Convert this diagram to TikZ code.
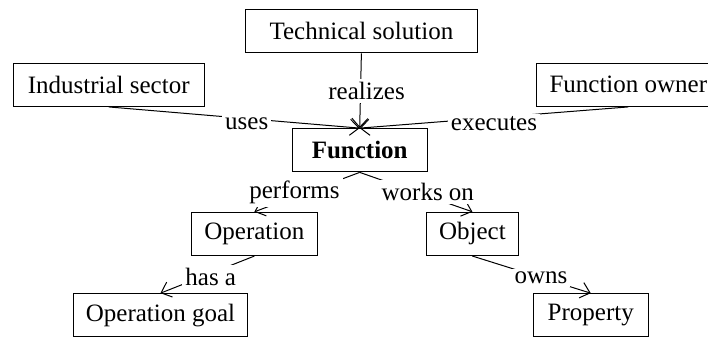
\documentclass[tikz,border=0pt]{standalone}
\usepackage{fontspec}
\setmainfont{Liberation Serif}
\usetikzlibrary{arrows.meta}

\begin{document}
\begin{tikzpicture}[box/.style = {draw, minimum height=0.76cm, inner sep=0pt},lbl/.style={fill=white, inner sep=1.5pt},
        every path/.style={line width=0.5pt}, >={Straight Barb[length=4.5pt,width=8pt]}, font=\fontsize{12.5}{15}\selectfont]
        \useasboundingbox (0,0) rectangle (12.44,5.94);
        \node[box, minimum width=4.08cm] (tech) at (6.35, 5.39) {Technical solution};
        \node[box, minimum width=3.36cm] (sector) at (1.91, 4.45) {Industrial sector};
        \node[box, minimum width=3.23cm] (owner) at (11.04, 4.45) {Function owner};
        \node[box, minimum width=2.37cm] (func) at (6.32, 3.30) {\textbf{Function}};
        \node[box, minimum width=2.20cm] (op) at (4.47, 1.83) {Operation};
        \node[box, minimum width=1.63cm] (obj) at (8.30, 1.83) {Object};
        \node[box, minimum width=3.04cm] (goal) at (2.82, 0.40) {Operation goal};
        \node[box, minimum width=2.02cm] (prop) at (10.38, 0.40) {Property};
        \draw[->] (tech.south) -- node[lbl, xshift=3pt] {realizes} (func.north);
        \draw[->] (sector.south) -- node[lbl, pos=0.55, yshift=-2.7pt] {uses} (func.north);
        \draw[->] (owner.south) -- node[lbl, pos=0.5, yshift=-3.2pt] {executes} (func.north);
        \draw[->] (func.south) -- node[lbl, pos=0.45, xshift=-8.9pt, yshift=-1pt] {performs} (op.north);
        \draw[->] (func.south) -- node[lbl, pos=0.45, xshift=8.7pt, yshift=-1pt] {works on} (obj.north);
        \draw[->] (op.south) -- node[lbl, pos=0.55, xshift=4pt] {has a} (goal.north);
        \draw[->] (obj.south) -- node[lbl, pos=0.58] {owns} (prop.north);
    \end{tikzpicture}
\end{document}
